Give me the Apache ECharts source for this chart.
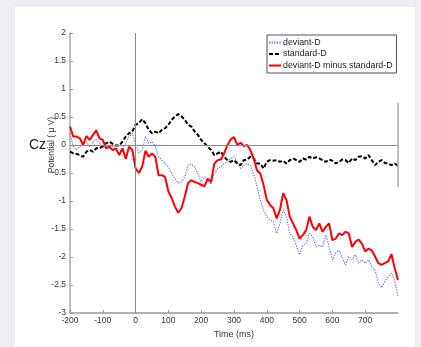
<!DOCTYPE html>
<html>
<head>
<meta charset="utf-8">
<script src="https://cdn.jsdelivr.net/npm/echarts@6/dist/echarts.min.js"></script>
<style>
html,body{margin:0;padding:0;background:#eceef1;}
#panel{position:absolute;left:15px;top:7px;width:400px;height:340px;background:#fff;}
#chart{position:absolute;left:0;top:0;width:421px;height:347px;}
</style>
</head>
<body>
<div id="panel"></div>
<div id="chart"></div>
<script>
// time points (ms)
const times = [];
for (let t = -200; t <= 800; t += 10) times.push(t);

const xTicks = [-200,-100,0,100,200,300,400,500,600,700];
const yTicks = [2,1.5,1,0.5,0,-0.5,-1,-1.5,-2,-2.5,-3];

const deviantD = [
 0.21,-0.03,-0.09,-0.03,0.03,0.06,-0.03,0.06,0.10,0.03,
 -0.03,-0.06,-0.03,-0.02,-0.08,-0.15,-0.06,0.03,0.15,0.21,
 0.03,-0.15,-0.09,0.15,0.03,0.06,-0.03,-0.21,-0.27,-0.33,
 -0.39,-0.51,-0.60,-0.68,-0.66,-0.57,-0.36,-0.34,-0.39,-0.51,
 -0.66,-0.57,-0.63,-0.70,-0.51,-0.42,-0.39,-0.33,-0.30,-0.24,
 -0.21,-0.30,-0.42,-0.36,-0.33,-0.36,-0.51,-0.74,-0.98,-1.16,
 -1.28,-1.34,-1.37,-1.58,-1.40,-1.16,-1.28,-1.58,-1.64,-1.79,
 -1.96,-1.79,-1.76,-1.58,-1.64,-1.82,-1.79,-1.82,-1.61,-1.82,
 -2.05,-1.93,-1.88,-2.02,-2.14,-1.99,-2.05,-1.96,-2.11,-2.05,
 -2.11,-2.05,-2.17,-2.23,-2.46,-2.55,-2.43,-2.35,-2.29,-2.43,
 -2.70
];
const standardD = [
 -0.12,-0.15,-0.16,-0.18,-0.21,-0.12,-0.09,-0.12,-0.06,-0.06,
 -0.02,0.03,0.06,0.02,-0.01,-0.01,0.06,0.15,0.21,0.24,
 0.36,0.39,0.46,0.39,0.27,0.21,0.24,0.21,0.27,0.30,
 0.36,0.45,0.51,0.55,0.51,0.45,0.36,0.33,0.24,0.18,
 0.09,0.03,-0.03,-0.09,-0.18,-0.15,-0.12,-0.21,-0.27,-0.30,
 -0.27,-0.33,-0.36,-0.27,-0.26,-0.21,-0.24,-0.33,-0.33,-0.42,
 -0.30,-0.27,-0.28,-0.27,-0.30,-0.28,-0.33,-0.27,-0.24,-0.27,
 -0.30,-0.24,-0.26,-0.21,-0.24,-0.22,-0.24,-0.27,-0.30,-0.26,
 -0.28,-0.33,-0.30,-0.26,-0.27,-0.32,-0.24,-0.27,-0.21,-0.20,
 -0.24,-0.18,-0.27,-0.36,-0.30,-0.27,-0.32,-0.33,-0.36,-0.33,
 -0.37
];
const diffD = [
 0.33,0.15,0.15,0.12,0.0,0.16,0.09,0.18,0.26,0.12,
 0.09,-0.06,-0.03,-0.09,-0.06,-0.18,-0.06,-0.25,-0.03,-0.09,
 -0.42,-0.50,-0.39,-0.10,-0.21,-0.15,-0.21,-0.54,-0.54,-0.57,
 -0.83,-0.95,-1.10,-1.21,-1.13,-0.92,-0.68,-0.63,-0.66,-0.68,
 -0.71,-0.74,-0.60,-0.66,-0.33,-0.27,-0.26,-0.15,0.0,0.10,
 0.14,0.0,0.04,-0.02,0.0,-0.09,-0.24,-0.45,-0.51,-0.71,
 -0.98,-1.07,-1.13,-1.31,-1.16,-0.86,-0.98,-1.28,-1.40,-1.52,
 -1.67,-1.61,-1.52,-1.28,-1.46,-1.52,-1.40,-1.55,-1.46,-1.40,
 -1.70,-1.67,-1.58,-1.61,-1.55,-1.58,-1.82,-1.73,-1.69,-1.76,
 -1.90,-1.85,-1.88,-1.99,-2.11,-2.14,-2.11,-2.08,-1.95,-2.20,
 -2.41
];

const pair = arr => times.map((t, i) => [t, arr[i]]);
const font = '"Liberation Sans", Arial, sans-serif';

const chart = echarts.init(document.getElementById('chart'), null, {renderer: 'canvas'});
chart.setOption({
  animation: false,
  backgroundColor: 'transparent',
  grid: {left: 70, top: 33, right: 23, bottom: 34},
  xAxis: {
    type: 'value', min: -200, max: 800, interval: 100,
    name: 'Time (ms)', nameLocation: 'middle', nameGap: 13,
    nameTextStyle: {fontFamily: font, fontSize: 9, color: '#333'},
    axisLine: {show: true, onZero: false, lineStyle: {color: '#999', width: 1.5}},
    axisTick: {show: true, inside: true, length: 3, lineStyle: {color: '#999'}},
    axisLabel: {fontFamily: font, fontSize: 8.5, color: '#333', margin: 3, showMaxLabel: false,
      formatter: v => xTicks.includes(v) ? String(v) : ''},
    splitLine: {show: false}
  },
  yAxis: {
    type: 'value', min: -3, max: 2, interval: 0.5,
    axisLine: {show: true, onZero: false, lineStyle: {color: '#aaa', width: 1.5}},
    axisTick: {show: true, inside: true, length: 3, lineStyle: {color: '#999'}},
    axisLabel: {fontFamily: font, fontSize: 8.5, color: '#333', margin: 4,
      formatter: v => yTicks.includes(v) ? String(v) : ''},
    splitLine: {show: false}
  },
  legend: {
    data: ['deviant-D', 'standard-D', 'deviant-D minus standard-D'],
    orient: 'vertical', left: 267, top: 35,
    backgroundColor: '#fff', borderColor: '#555', borderWidth: 1,
    padding: [3, 4, 3, 1], itemGap: 2.5, itemWidth: 12, itemHeight: 9,
    itemStyle: {opacity: 0},
    textStyle: {fontFamily: font, fontSize: 8.8, color: '#222', padding: [0, 0, 0, -3]}
  },
  graphic: [
    {type: 'text', left: 29, top: 138, style: {text: 'Cz', font: '14px ' + font, fill: '#222'}},
    {type: 'text', x: 52, y: 145, rotation: Math.PI / 2,
      style: {text: 'Potential ( \u03bc V)', font: '8.5px ' + font, fill: '#333', align: 'center', verticalAlign: 'middle'}}
  ],
  series: [
    {
      name: 'ref', type: 'line', data: [], z: 1, silent: true,
      markLine: {
        silent: true, symbol: 'none', label: {show: false}, animation: false,
        lineStyle: {color: '#888', type: 'solid', width: 1},
        data: [
          {xAxis: 0},
          {yAxis: 0},
          [{coord: [800, 0.75], lineStyle: {color: '#aaa', width: 1.5}}, {coord: [800, -0.75]}]
        ]
      }
    },
    {
      name: 'deviant-D', type: 'line', data: pair(deviantD), symbol: 'none', z: 2,
      lineStyle: {color: '#6a6ad8', width: 1.1, type: [1.3, 1.3]}, itemStyle: {color: '#6a6ad8'}
    },
    {
      name: 'standard-D', type: 'line', data: pair(standardD), symbol: 'none', z: 3,
      lineStyle: {color: '#000', width: 2, type: [4, 2]}, itemStyle: {color: '#000'}
    },
    {
      name: 'deviant-D minus standard-D', type: 'line', data: pair(diffD), symbol: 'none', z: 4,
      lineStyle: {color: '#f00', width: 2}, itemStyle: {color: '#f00'}
    }
  ]
});
</script>
</body>
</html>
